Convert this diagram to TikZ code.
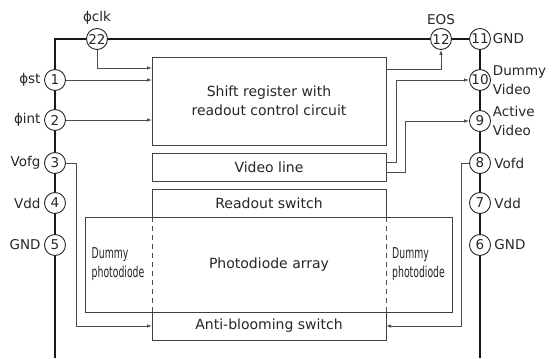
\documentclass[tikz,border=0pt]{standalone}
\usepackage{fontspec}
\setmainfont{DejaVu Sans}
\newfontfamily\narrowfont[FakeStretch=0.62]{DejaVu Sans}
\usetikzlibrary{positioning, arrows.meta}

\begin{document}
\begin{tikzpicture}[
  x=1pt, y=-1pt,
  font=\fontsize{13.5}{18.5}\selectfont,
  text=black!85,
  bus/.style={draw=black!90, line width=1.8pt},
  pin/.style={draw=black!85, circle, fill=white, minimum size=21pt,
    inner sep=0pt, line width=0.9pt},
  blk/.style={draw=black!75, rectangle, fill=white, minimum width=234pt,
    minimum height=28pt, inner sep=2pt, outer sep=0pt, line width=0.9pt,
    align=center, font=\fontsize{14}{18.5}\selectfont},
  dummy/.style={font=\narrowfont\fontsize{15}{19}\selectfont, align=left,
    inner sep=0pt},
  wire/.style={draw=black!70, line width=0.8pt},
  sig/.style={wire, -{Latex[length=5pt, width=3.5pt]}},
]
  \useasboundingbox (0,0) rectangle (553,358);

  % Sensor blocks
  \node[blk, minimum height=88pt] (sr) at (269,101)
        {Shift register with\\readout control circuit};
  \node[blk, below=8pt of sr] (vid) {Video line};
  \node[blk, below=8pt of vid] (ro) {Readout switch};
  \node[blk, minimum width=367pt, minimum height=95pt, below=0pt of ro] (pd)
        {Photodiode array};
  \node[blk, below=0pt of pd] (ab) {Anti-blooming switch};
  \draw[wire, dash pattern=on 5pt off 4pt] (ro.south west) -- (ab.north west);
  \draw[wire, dash pattern=on 5pt off 4pt] (ro.south east) -- (ab.north east);
  \node[dummy, anchor=west, xshift=6pt] (dml) at (pd.west) {Dummy\\photodiode};
  \node[dummy, anchor=west, xshift=6pt] (dmr) at (pd.center -| ro.east)
        {Dummy\\photodiode};

  % Pins, left row
  \node[pin, label=left:ϕst] (p1) at (55,80) {1};
  \node[pin, label=left:ϕint] (p2) at (55,120) {2};
  \node[pin, label=left:Vofg] (p3) at (55,163) {3};
  \node[pin, label=left:Vdd] (p4) at (55,203) {4};
  \node[pin, label=left:GND] (p5) at (55,245) {5};

  % Pins, top row
  \node[pin, label=above:ϕclk] (p22) at (97,39) {22};
  \node[pin, label=above:EOS] (p12) at (441,39) {12};
  \node[pin, label={[label distance=-1.5pt]right:GND}] (p11) at (480,39) {11};

  % Pins, right row
  \node[pin, label={[align=left, label distance=-1.5pt]right:Dummy\\Video}] (p10) at (480,80) {10};
  \node[pin, label={[align=left, label distance=-1.5pt]right:Active\\Video}] (p9) at (480,121) {9};
  \node[pin, label=right:Vofd] (p8) at (480,163) {8};
  \node[pin, label=right:Vdd] (p7) at (480,203) {7};
  \node[pin, label=right:GND] (p6) at (480,245) {6};

  \coordinate (lbot) at (55,358);
  \coordinate (rbot) at (480,358);

  % Package outline
  \draw[bus] (lbot) -- (p5) -- (p4) -- (p3) -- (p2) -- (p1) |- (p22);
  \draw[bus] (p22) -- (p12) -- (p11) -- (p10) -- (p9) -- (p8) -- (p7)
        -- (p6) -- (rbot);

  % Signals
  \draw[sig] (p22) |- ([yshift=-11pt]sr.north west);
  \draw[sig] (p1) -- (p1 -| sr.west);
  \draw[sig] (p2) -- (p2 -| sr.west);
  \draw[sig] ([yshift=-12pt]sr.north east) -| (p12);
  \draw[sig] ([yshift=-9pt]vid.north east) -- ++(10,0) |- (p10);
  \draw[sig] ([yshift=9pt]vid.south east) -- ++(19,0) |- (p9);
  \draw[sig] (p3.east) -- ++(10.5,0) |- (ab);
  \draw[sig] (p8.west) -- ++(-7.5,0) |- (ab);
\end{tikzpicture}
\end{document}
